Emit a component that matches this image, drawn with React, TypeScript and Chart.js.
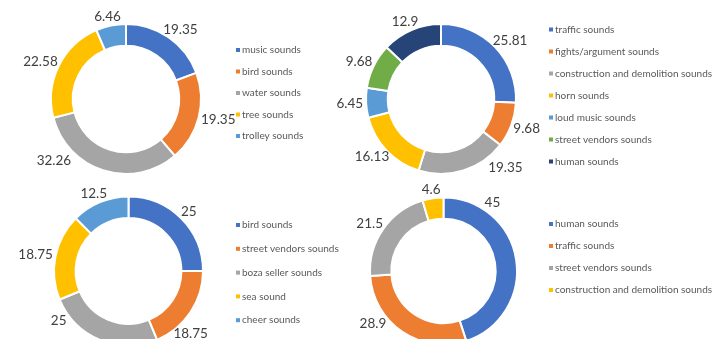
import React, { useEffect, useRef } from "react";
import { Chart, registerables } from "chart.js";

Chart.register(...registerables);

// ---------- data ----------
const chart1Categories = ["music sounds", "bird sounds", "water sounds", "tree sounds", "trolley sounds"];
const chart1Values = [19.35, 19.35, 32.26, 22.58, 6.46];

const chart2Categories = [
  "traffic sounds",
  "fights/argument sounds",
  "construction and demolition sounds",
  "horn sounds",
  "loud music sounds",
  "street vendors sounds",
  "human sounds",
];
const chart2Values = [25.81, 9.68, 19.35, 16.13, 6.45, 9.68, 12.9];

const chart3Categories = ["bird sounds", "street vendors sounds", "boza seller sounds", "sea sound", "cheer sounds"];
const chart3Values = [25, 18.75, 25, 18.75, 12.5];

const chart4Categories = ["human sounds", "traffic sounds", "street vendors sounds", "construction and demolition sounds"];
const chart4Values = [45, 28.9, 21.5, 4.6];

// ---------- styles ----------
const PALETTE = ["#4472C4", "#ED7D31", "#A5A5A5", "#FFC000", "#5B9BD5", "#70AD47", "#264478"];
const BORDER = 2;
const CUTOUT = "71%";
const LABEL_FONT = "13.5px Lato";
const LEGEND_FONT = "10px Lato";
const LABEL_COLOR = "#404040";
const LEGEND_COLOR = "#595959";
const CANVAS_W = 712;
const CANVAS_H = 380; // taller than the view; the wrapper clips the bottom like the reference

// label placement overrides (angle in degrees clockwise from top, gap beyond ring)
type LabelPos = { angle: number; gap: number } | null;
const chart1LabelPos: LabelPos[] = [null, null, { angle: 226, gap: 8 }, null, null];
const chart2LabelPos: LabelPos[] = [null, null, { angle: 140, gap: 8 }, null, null, null, null];
const chart3LabelPos: LabelPos[] = [null, { angle: 139, gap: 3 }, { angle: 234, gap: 4 }, null, null];
const chart4LabelPos: LabelPos[] = [{ angle: 35, gap: 4 }, { angle: 231, gap: 4 }, null, null];

type Panel = {
  cx: number;
  cy: number;
  r: number;
  categories: string[];
  values: number[];
  labelPos: LabelPos[];
  legendX: number;
  legendY: number;
  legendStep: number;
};

const panels: Panel[] = [
  { cx: 126, cy: 99, r: 75, categories: chart1Categories, values: chart1Values, labelPos: chart1LabelPos, legendX: 236, legendY: 50, legendStep: 21.5 },
  { cx: 441, cy: 99, r: 75, categories: chart2Categories, values: chart2Values, labelPos: chart2LabelPos, legendX: 549, legendY: 29.5, legendStep: 22 },
  { cx: 128.5, cy: 271, r: 74.5, categories: chart3Categories, values: chart3Values, labelPos: chart3LabelPos, legendX: 236, legendY: 225, legendStep: 23.8 },
  { cx: 443.5, cy: 271, r: 73.5, categories: chart4Categories, values: chart4Values, labelPos: chart4LabelPos, legendX: 549, legendY: 224, legendStep: 22 },
];

function makeLabelPlugin(panel: Panel) {
  return {
    id: "outerLabels",
    afterDatasetsDraw(chart: any) {
      const ctx = chart.ctx;
      const meta = chart.getDatasetMeta(0);
      const values = chart.data.datasets[0].data as number[];
      ctx.save();
      ctx.font = LABEL_FONT;
      ctx.fillStyle = LABEL_COLOR;
      ctx.textAlign = "center";
      ctx.textBaseline = "middle";
      meta.data.forEach((arc: any, i: number) => {
        const props = arc.getProps(["x", "y", "startAngle", "endAngle", "outerRadius"], true);
        const ov = panel.labelPos[i];
        let a = (props.startAngle + props.endAngle) / 2;
        let gap = 3;
        if (ov) {
          a = ((ov.angle - 90) * Math.PI) / 180;
          gap = ov.gap;
        }
        const text = String(values[i]);
        const w = ctx.measureText(text).width;
        const h = 12;
        const rr = props.outerRadius + gap;
        const px = props.x + rr * Math.cos(a) + (w / 2) * Math.cos(a);
        const py = props.y + rr * Math.sin(a) + (h / 2) * Math.sin(a);
        ctx.fillText(text, px, py);
      });
      ctx.restore();
    },
  };
}

function makeLegendPlugin(panel: Panel) {
  return {
    id: "sideLegend",
    afterDraw(chart: any) {
      const ctx = chart.ctx;
      const labels = chart.data.labels as string[];
      const colors = chart.data.datasets[0].backgroundColor as string[];
      ctx.save();
      ctx.font = LEGEND_FONT;
      ctx.textAlign = "left";
      ctx.textBaseline = "middle";
      labels.forEach((lab, i) => {
        const y = panel.legendY + i * panel.legendStep;
        ctx.fillStyle = colors[i];
        ctx.fillRect(panel.legendX, y - 2, 4, 4);
        ctx.fillStyle = LEGEND_COLOR;
        ctx.fillText(lab, panel.legendX + 6, y);
      });
      ctx.restore();
    },
  };
}

function DonutPanel({ panel }: { panel: Panel }) {
  const ref = useRef<HTMLCanvasElement>(null);
  useEffect(() => {
    const canvas = ref.current;
    if (!canvas) return;
    const size = panel.r * 2 + BORDER;
    const padding = {
      left: panel.cx - size / 2,
      top: panel.cy - size / 2,
      right: CANVAS_W - (panel.cx + size / 2),
      bottom: CANVAS_H - (panel.cy + size / 2),
    };
    const chart = new Chart(canvas, {
      type: "doughnut",
      data: {
        labels: panel.categories,
        datasets: [
          {
            data: panel.values,
            backgroundColor: PALETTE.slice(0, panel.values.length),
            borderColor: "#ffffff",
            borderWidth: BORDER,
            hoverOffset: 0,
          },
        ],
      },
      options: {
        responsive: false,
        maintainAspectRatio: false,
        animation: false,
        devicePixelRatio: 1,
        cutout: CUTOUT,
        events: [],
        layout: { padding },
        plugins: {
          legend: { display: false },
          tooltip: { enabled: false },
        },
      },
      plugins: [makeLabelPlugin(panel), makeLegendPlugin(panel)],
    } as any);
    return () => chart.destroy();
  }, [panel]);
  return (
    <canvas
      ref={ref}
      width={CANVAS_W}
      height={CANVAS_H}
      style={{ position: "absolute", left: 0, top: 0, width: CANVAS_W, height: CANVAS_H }}
    />
  );
}

export default function App() {
  return (
    <div
      style={{
        position: "absolute",
        left: 0,
        top: 0,
        width: 712,
        height: 339,
        overflow: "hidden",
        background: "#ffffff",
      }}
    >
      {panels.map((p, i) => (
        <DonutPanel key={i} panel={p} />
      ))}
    </div>
  );
}
